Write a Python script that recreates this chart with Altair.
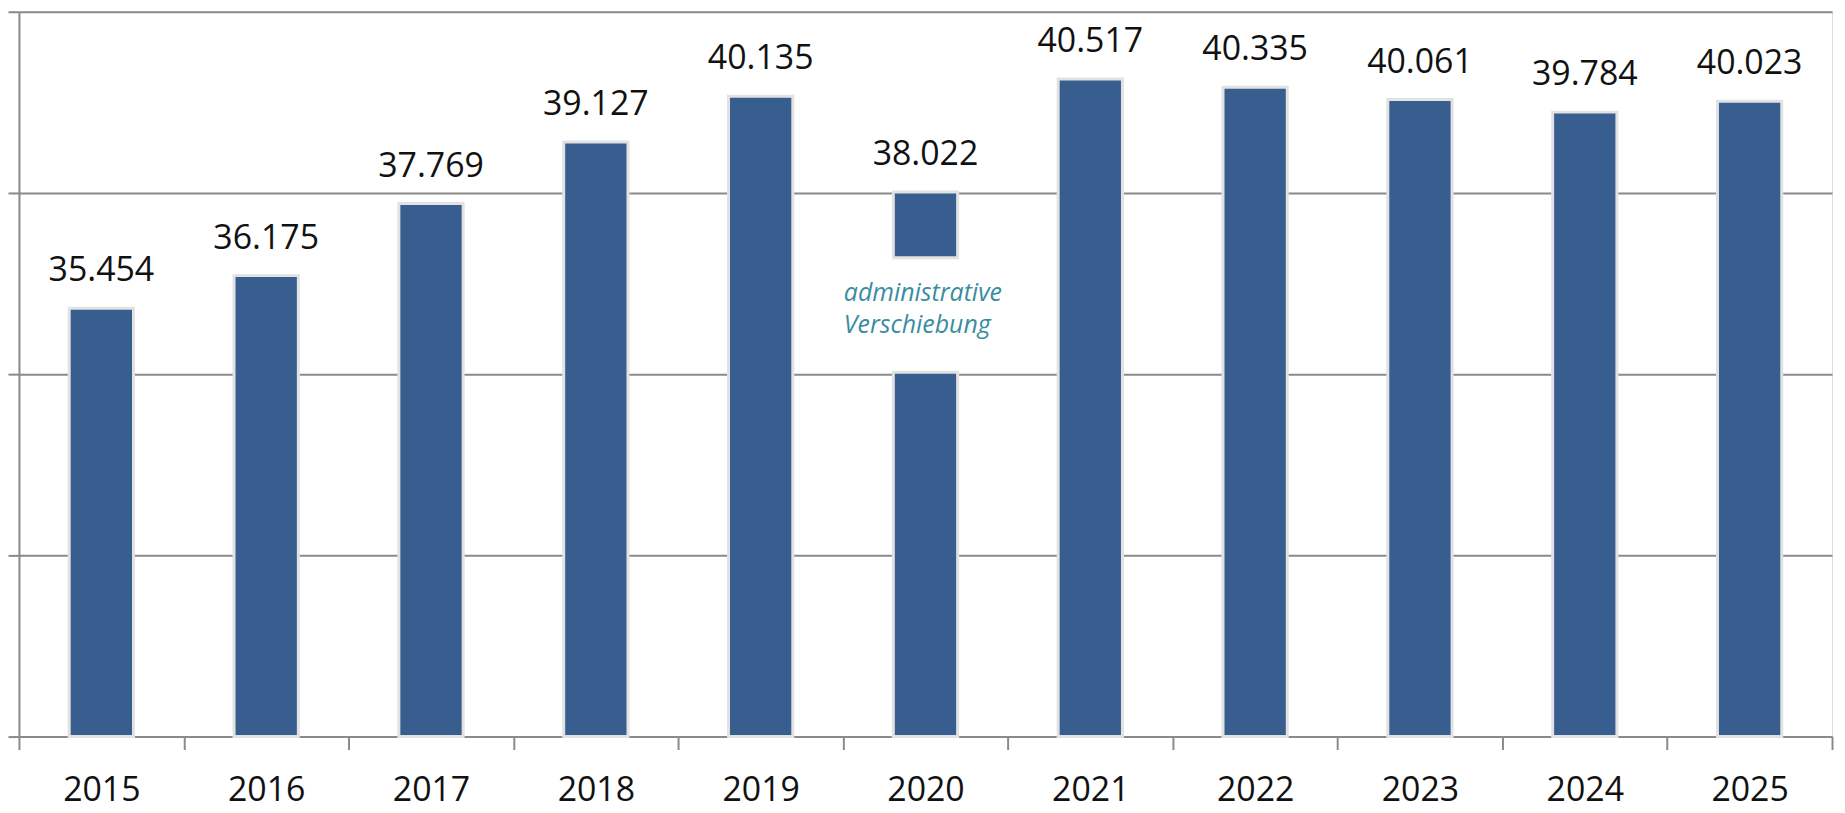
import altair as alt
import pandas as pd

# ---- data (values in thousands) ----
years = ["2015", "2016", "2017", "2018", "2019", "2020",
         "2021", "2022", "2023", "2024", "2025"]
values = [35.454, 36.175, 37.769, 39.127, 40.135, 38.022,
          40.517, 40.335, 40.061, 39.784, 40.023]
y_domain = [26, 42]
y_ticks = [26, 30, 34, 38, 42]
gap_year = "2020"
gap_range = [34.04, 36.57]
note_text = "administrative\nVerschiebung"

rows = []
for yr, v in zip(years, values):
    if yr == gap_year:
        rows.append({"year": yr, "low": y_domain[0], "high": gap_range[0]})
        rows.append({"year": yr, "low": gap_range[1], "high": v})
    else:
        rows.append({"year": yr, "low": y_domain[0], "high": v})
segments = pd.DataFrame(rows)
labels = pd.DataFrame({"year": years, "value": values})
note = pd.DataFrame({"year": [gap_year],
                     "mid": [(gap_range[0] + gap_range[1]) / 2],
                     "text": [note_text]})

FONT = "Open Sans"
GRID = "#8a8a8a"

x_scale = alt.Scale(paddingInner=0, paddingOuter=0)
x_enc = alt.X("year:N", sort=years, scale=x_scale,
              axis=alt.Axis(title=None, labelAngle=0, labelFont=FONT,
                            labelFontSize=34, labelColor="#111111",
                            labelPadding=24, tickBand="extent", tickSize=13,
                            tickColor=GRID, tickWidth=2, domainColor=GRID,
                            domainWidth=2, grid=False))
y_scale = alt.Scale(domain=y_domain, nice=False, zero=False)
y_axis = alt.Axis(title=None, labels=False, values=y_ticks, tickSize=11,
                  tickColor=GRID, tickWidth=2, domainColor=GRID, domainWidth=2,
                  grid=True, gridColor=GRID, gridWidth=2)

bars = alt.Chart(segments).mark_bar(
    color="#375e8f", stroke="#e2e2e2", strokeWidth=3, width={"band": 0.39}
).encode(
    x=x_enc,
    y=alt.Y("high:Q", scale=y_scale, axis=y_axis),
    y2="low:Q",
)

text = alt.Chart(labels).mark_text(
    font=FONT, fontSize=34, color="#111111", baseline="bottom", dy=-20
).encode(
    x=alt.X("year:N", sort=years),
    y=alt.Y("value:Q"),
    text=alt.Text("value:Q", format=".3f"),
)

note_mark = alt.Chart(note).mark_text(
    font=FONT, fontSize=25, fontStyle="italic", color="#3a8da0",
    align="left", baseline="middle", lineBreak="\n", lineHeight=32,
    dx=-82, dy=-22
).encode(
    x=alt.X("year:N", sort=years),
    y=alt.Y("mid:Q"),
    text="text:N",
)

chart = alt.layer(bars, text, note_mark).properties(
    width=1821, height=728,
    autosize=alt.AutoSizeParams(type="none"),
    padding={"left": 11, "top": 2, "right": 5, "bottom": 72},
).configure_view(stroke=None).configure(background="white")

chart.save("out.html", embed_options={"renderer": "svg", "actions": False})
